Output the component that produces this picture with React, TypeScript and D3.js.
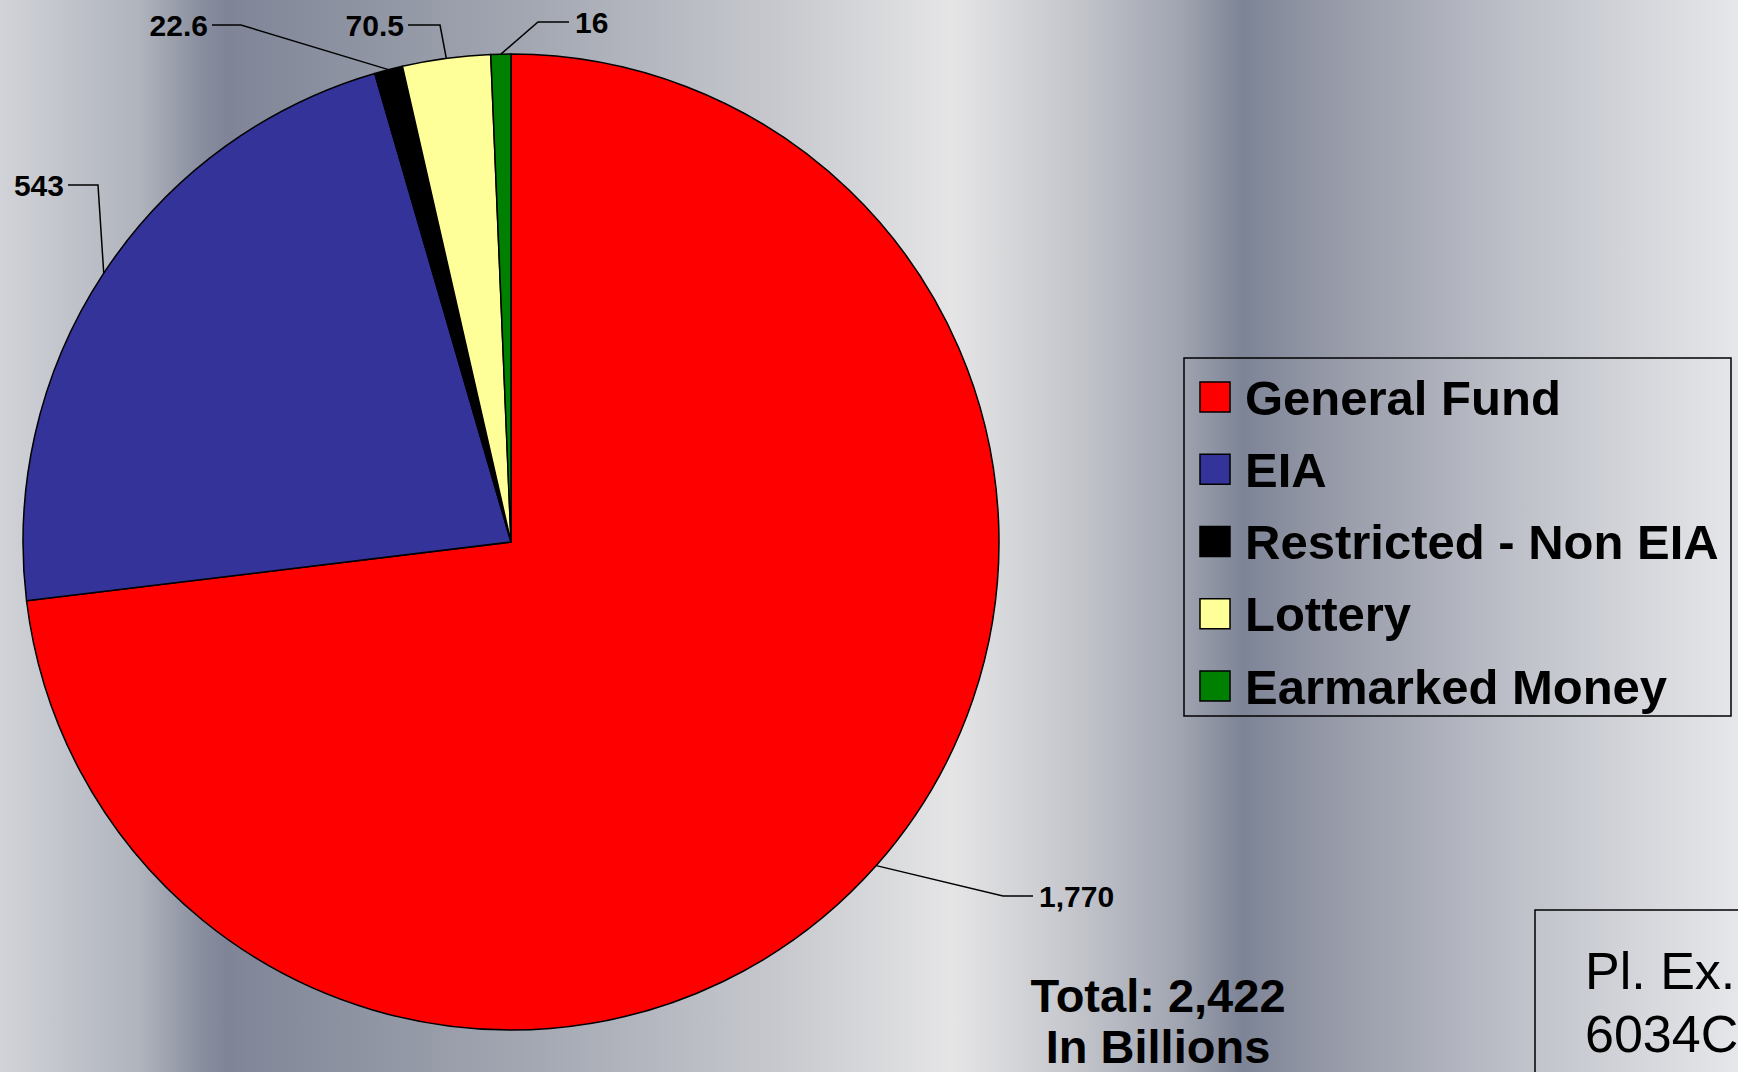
import * as d3 from "d3";
import React from "react";

// chart values (billions)
const categories = ["General Fund", "EIA", "Restricted - Non EIA", "Lottery", "Earmarked Money"];
const amounts = [1770, 543, 22.6, 70.5, 16];
const valueLabels = ["1,770", "543", "22.6", "70.5", "16"];
const sliceColors = ["#ff0000", "#333399", "#000000", "#ffff99", "#008000"];
const totalLines = ["Total: 2,422", "In Billions"];
const exhibitLines = ["Pl. Ex.", "6034C"];

const W = 1738;
const H = 1072;
const FONT = "'Liberation Sans', Arial, Helvetica, sans-serif";

// leader line elbows for the labels: [elbowX, elbowY, endX, side]
const leaderLayout: [number, number, number, "start" | "end"][] = [
  [1003, 896, 1033, "start"],
  [98, 185, 68, "end"],
  [241, 25, 212, "end"],
  [440, 25, 408, "end"],
  [538, 22, 569, "start"],
];

// vertical banding of the backdrop
const bgStops: [number, string][] = [
  [0, "#d1d3d8"],
  [0.08, "#b0b4bd"],
  [0.115, "#8a8fa0"],
  [0.13, "#7f8597"],
  [0.3, "#a2a6b1"],
  [0.45, "#c7c9ce"],
  [0.548, "#e5e5e6"],
  [0.62, "#c3c5cb"],
  [0.68, "#a0a4b0"],
  [0.715, "#7d8496"],
  [0.76, "#9498a6"],
  [0.87, "#bdc0c8"],
  [1, "#e6e7ea"],
];

export default function App() {
  const cx = 511;
  const cy = 542;
  const r = 488;

  const pie = d3
    .pie<number>()
    .sort(null)
    .value((d) => d)
    .startAngle(0)
    .endAngle(2 * Math.PI);
  const arcs = pie(amounts);
  const arc = d3.arc<d3.PieArcDatum<number>>().innerRadius(0).outerRadius(r);

  const legendY = d3
    .scalePoint<string>()
    .domain(categories)
    .range([397, 686]);

  return (
    <svg
      width={W}
      height={H}
      style={{ position: "absolute", left: 0, top: 0, display: "block" }}
      fontFamily={FONT}
    >
      <defs>
        <linearGradient id="bg" x1="0%" y1="0%" x2="100%" y2="0%">
          {bgStops.map(([o, c], i) => (
            <stop key={i} offset={`${o * 100}%`} stopColor={c} />
          ))}
        </linearGradient>
      </defs>
      <rect width={W} height={H} fill="url(#bg)" />

      {/* pie */}
      <g transform={`translate(${cx},${cy})`}>
        {arcs.map((a, i) => (
          <path
            key={categories[i]}
            d={arc(a) || ""}
            fill={sliceColors[i]}
            stroke="#000"
            strokeWidth={1.5}
            strokeLinejoin="round"
          />
        ))}
      </g>

      {/* value labels with leader lines */}
      {arcs.map((a, i) => {
        const mid = (a.startAngle + a.endAngle) / 2;
        const px = cx + r * Math.sin(mid);
        const py = cy - r * Math.cos(mid);
        const [ex, ey, tx, side] = leaderLayout[i];
        return (
          <g key={`lab-${i}`}>
            <polyline
              points={`${px},${py} ${ex},${ey} ${tx},${ey}`}
              fill="none"
              stroke="#000"
              strokeWidth={1.5}
            />
            <text
              x={side === "start" ? tx + 6 : tx - 4}
              y={ey}
              dy="0.36em"
              textAnchor={side}
              fontSize={30}
              fontWeight="bold"
              fill="#000"
            >
              {valueLabels[i]}
            </text>
          </g>
        );
      })}

      {/* legend */}
      <rect x={1184} y={358} width={547} height={358} fill="none" stroke="#000" strokeWidth={1.5} />
      {categories.map((c, i) => (
        <g key={`leg-${c}`} transform={`translate(0,${legendY(c)})`}>
          <rect x={1200} y={-15} width={30} height={30} fill={sliceColors[i]} stroke="#000" strokeWidth={1.5} />
          <text x={1245} y={0} dy="0.36em" fontSize={49} fontWeight="bold" fill="#000">
            {c}
          </text>
        </g>
      ))}

      {/* total note */}
      {totalLines.map((t, i) => (
        <text
          key={t}
          x={1158}
          y={1012 + i * 51}
          textAnchor="middle"
          fontSize={47}
          fontWeight="bold"
          fill="#000"
        >
          {t}
        </text>
      ))}

      {/* exhibit stamp */}
      <rect x={1535} y={910} width={260} height={200} fill="none" stroke="#000" strokeWidth={1.5} />
      {exhibitLines.map((t, i) => (
        <text key={t} x={1585} y={989 + i * 63} fontSize={52} fill="#000">
          {t}
        </text>
      ))}
    </svg>
  );
}
